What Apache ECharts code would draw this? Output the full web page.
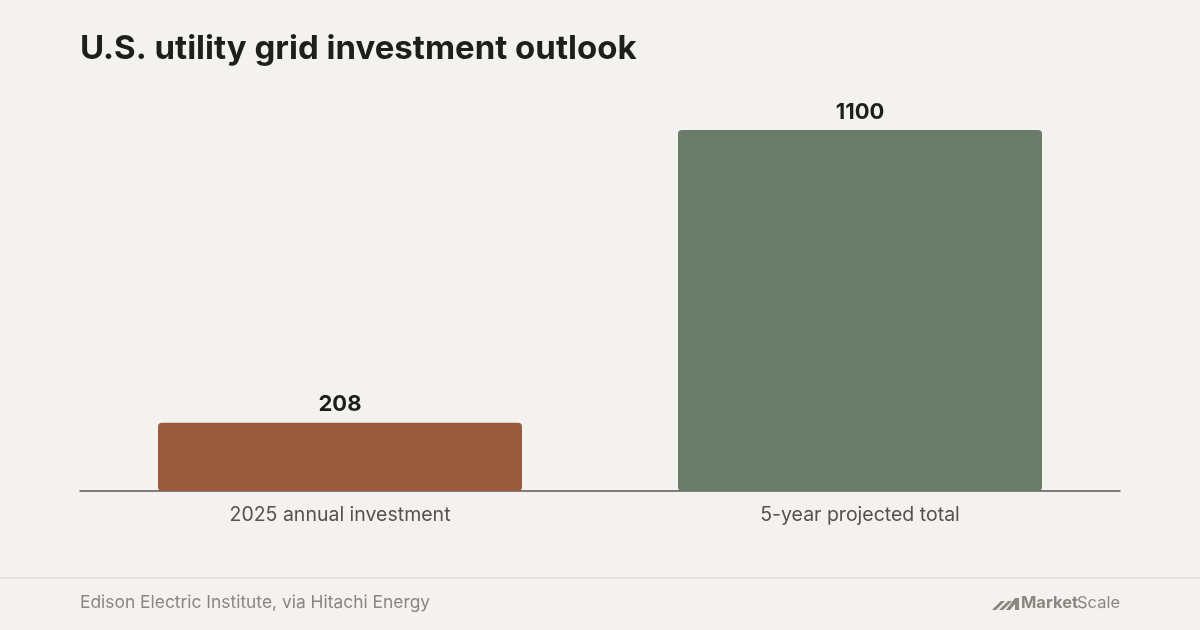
<!DOCTYPE html>
<html>
<head>
<meta charset="utf-8">
<script src="https://cdn.jsdelivr.net/npm/echarts@6/dist/echarts.min.js"></script>
<style>
  html, body { margin: 0; padding: 0; background: #f4f2ee; }
  #chart { width: 1200px; height: 630px; }
</style>
</head>
<body>
<div id="chart"></div>
<script>
// data ---------------------
var categories = ['2025 annual investment', '5-year projected total'];
var values = [208, 1100];
var barColors = ['#9a5a3e', '#6a7b69'];

var titleText = 'U.S. utility grid investment outlook';
var sourceText = 'Edison Electric Institute, via Hitachi Energy';

var myChart = echarts.init(document.getElementById('chart'));

var option = {
  backgroundColor: '#f4f2ee',
  textStyle: { fontFamily: 'Inter' },
  title: {
    text: titleText,
    left: 75,
    top: 28,
    textStyle: { fontFamily: 'Inter', fontSize: 33, fontWeight: 700, color: '#1e1e1c', letterSpacing: 0 }
  },
  grid: { left: 80, right: 80, top: 130, bottom: 139, containLabel: false },
  xAxis: {
    type: 'category',
    data: categories,
    axisLine: { lineStyle: { color: '#5a5652', width: 1.5 } },
    axisTick: { show: false },
    axisLabel: { color: '#55524e', fontSize: 19.5, margin: 14 }
  },
  yAxis: {
    type: 'value',
    min: 0,
    max: 1100,
    show: false,
    splitLine: { show: false }
  },
  series: [{
    type: 'bar',
    barWidth: '70%',
    data: values.map(function (v, i) {
      return { value: v, itemStyle: { color: barColors[i] } };
    }),
    itemStyle: { borderRadius: 4 },
    label: {
      show: true,
      position: 'top',
      distance: 7,
      fontSize: 22,
      fontWeight: 700,
      color: '#1e1e1c'
    },
    silent: true
  }],
  graphic: [
    // footer divider
    { type: 'rect', shape: { x: 0, y: 577, width: 1200, height: 2 }, style: { fill: '#e4e1dc' }, silent: true },
    { type: 'text', left: 80, top: 594, style: { text: sourceText, fill: '#8a8680', font: '17.4px Inter' } },
    // MarketScale logo
    { type: 'polygon', shape: { points: [[992, 610], [1001, 601], [1005, 601], [996, 610]] }, style: { fill: '#8a8680' } },
    { type: 'polygon', shape: { points: [[999, 610], [1008, 601], [1012, 601], [1003, 610]] }, style: { fill: '#8a8680' } },
    { type: 'polygon', shape: { points: [[1006, 610], [1015, 598], [1019, 598], [1019, 610], [1015, 610], [1015, 604], [1010, 610]] }, style: { fill: '#8a8680' } },
    { type: 'text', left: 1021, top: 595, style: { text: 'Market', fill: '#8a8680', font: '700 16.5px Inter', letterSpacing: -0.5 } },
    { type: 'text', left: 1077, top: 595, style: { text: 'Scale', fill: '#8a8680', font: '400 16.5px Inter', letterSpacing: -0.5 } }
  ]
};

myChart.setOption(option, true);

window.onresize = function () {
  myChart.resize();
};
</script>
</body>
</html>
